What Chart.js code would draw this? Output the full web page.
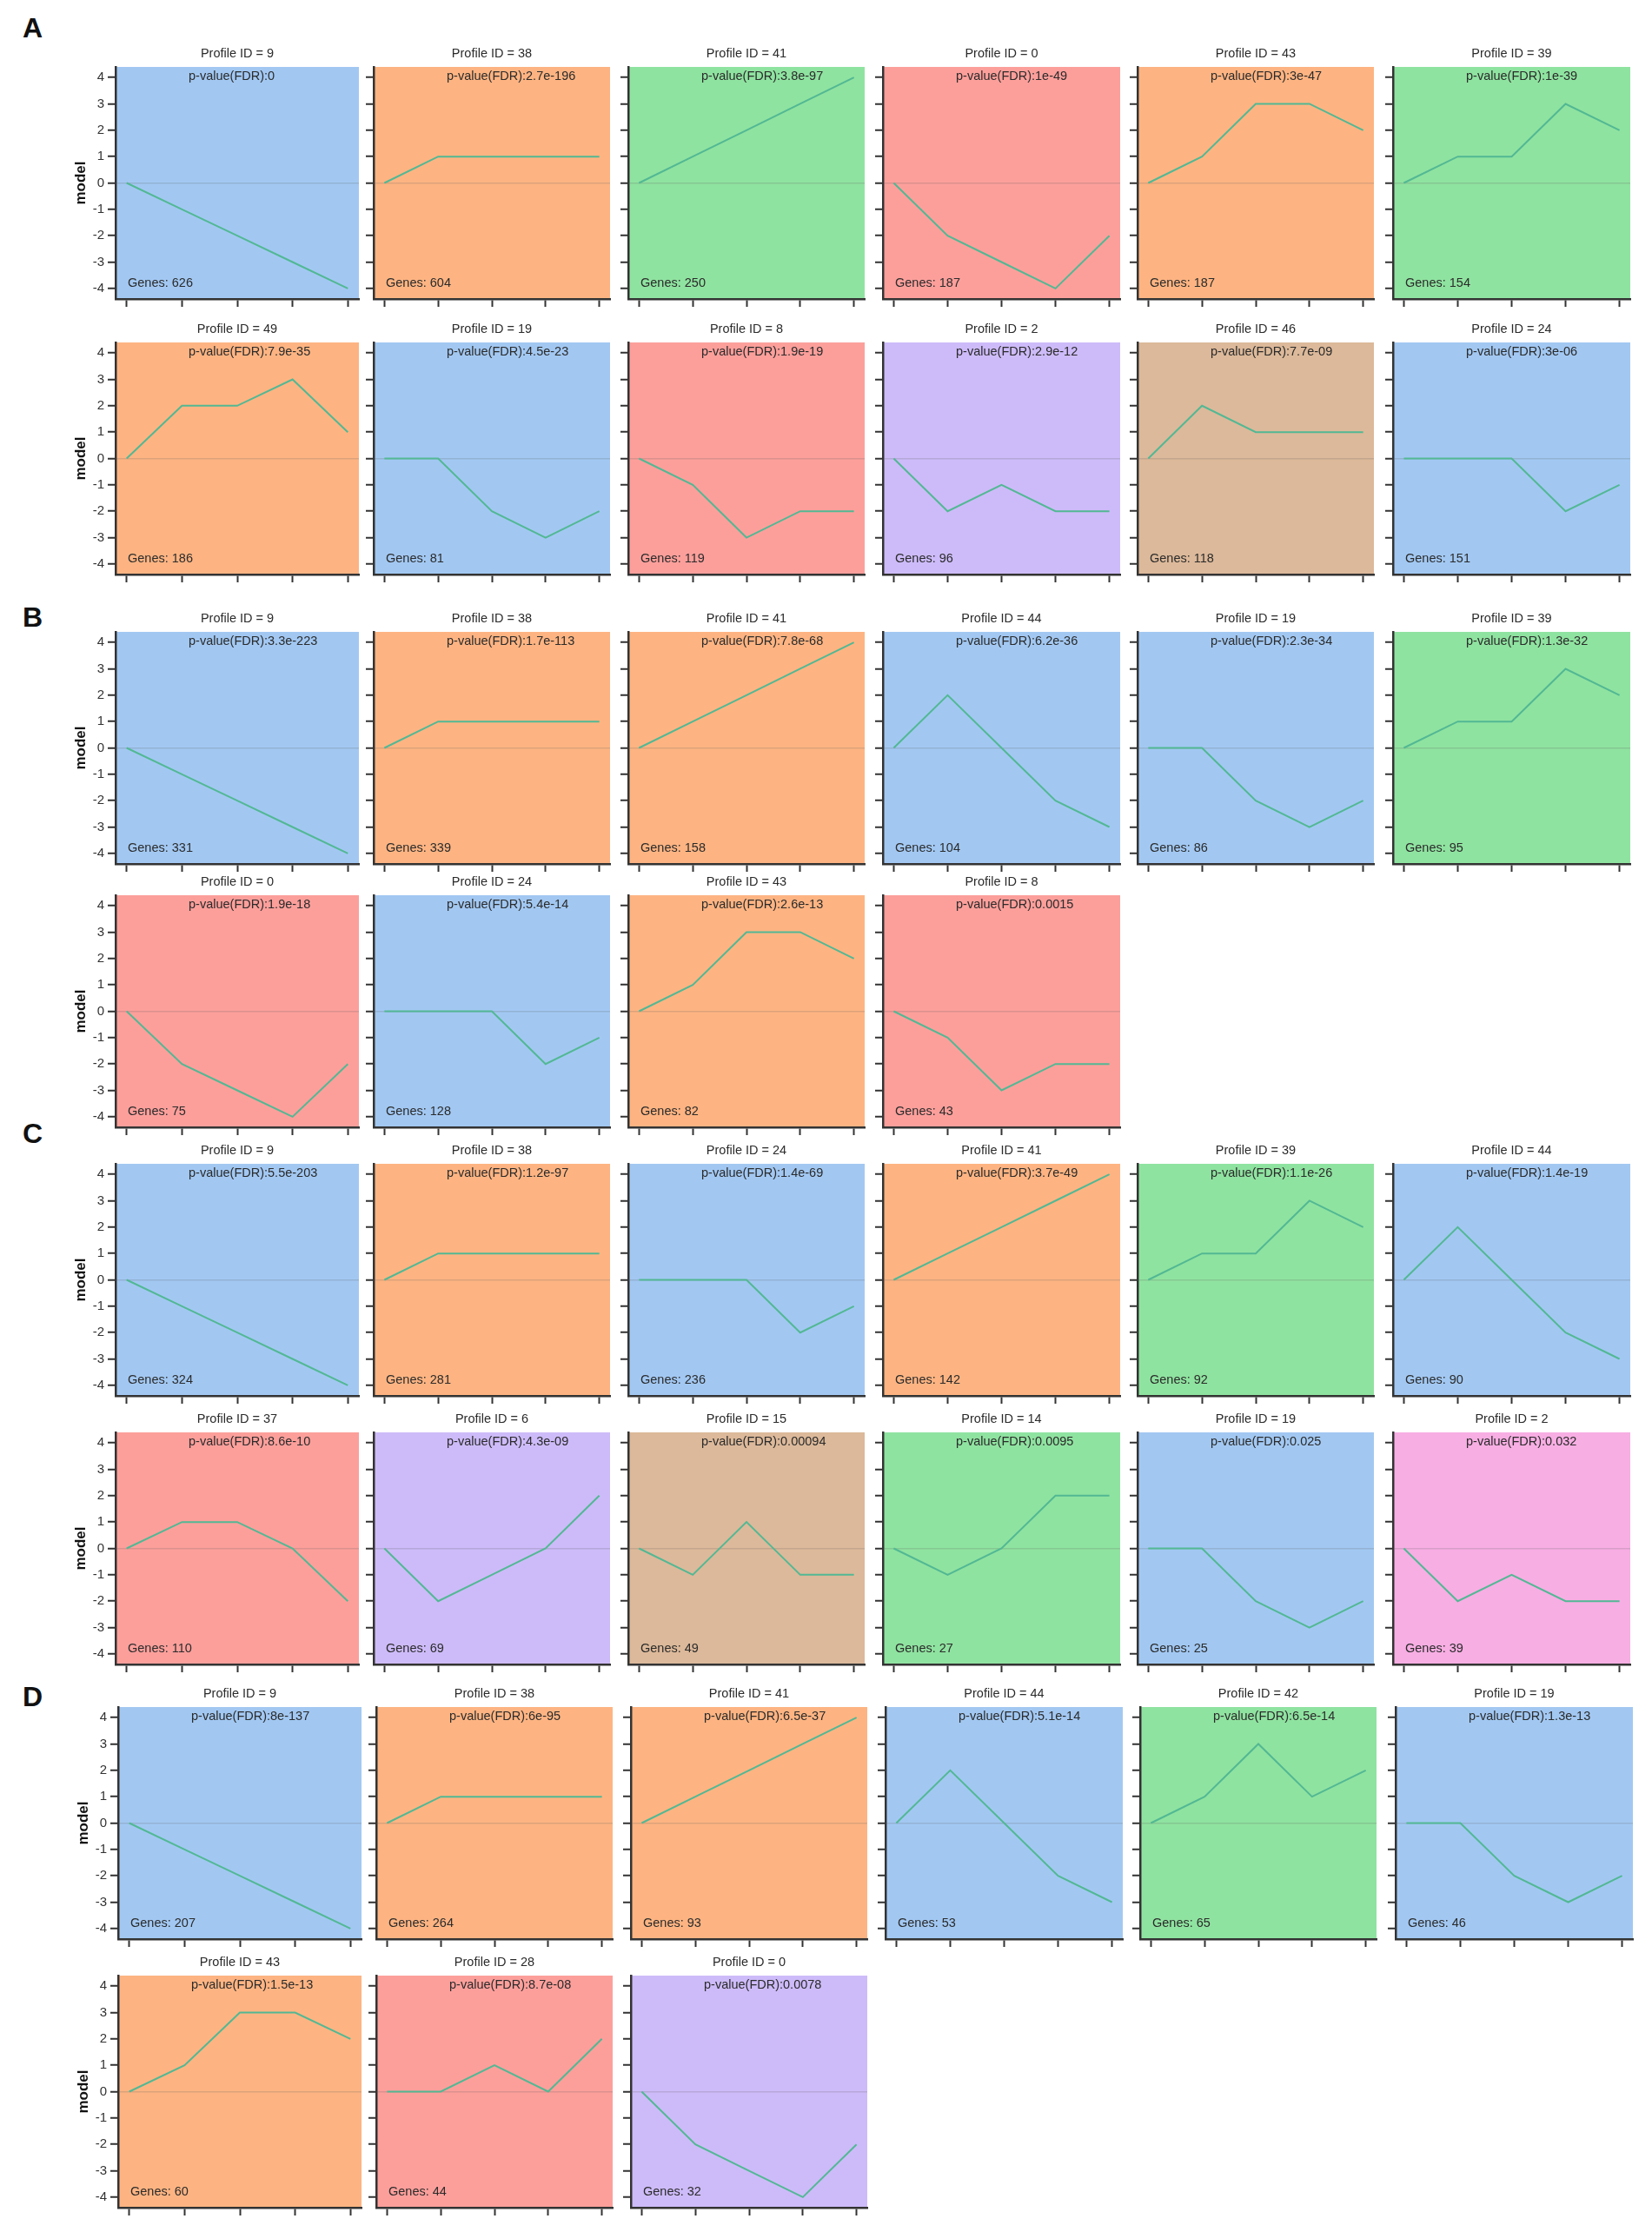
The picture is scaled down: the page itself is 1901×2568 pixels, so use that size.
<!DOCTYPE html>
<html><head><meta charset="utf-8">
<script src="https://cdn.jsdelivr.net/npm/chart.js@4.4.1/dist/chart.umd.min.js"></script>
<style>
html,body{margin:0;padding:0;background:#fff;}
#page{position:relative;width:1901px;height:2568px;overflow:hidden;font-family:"Liberation Sans",Arial,sans-serif;}
.letter{position:absolute;font-weight:bold;font-size:32px;line-height:32px;color:#111;font-family:"Liberation Sans",Arial,sans-serif;}
canvas{position:absolute;}
</style></head><body><div id="page"></div>
<script>
// ---------- data ----------
const sectionLetters = ['A', 'B', 'C', 'D'];
const timePoints = [0, 1, 2, 3, 4];
const yTickValues = [-4, -3, -2, -1, 0, 1, 2, 3, 4];

const idsA = [9, 38, 41, 0, 43, 39, 49, 19, 8, 2, 46, 24];
const pvalsA = ['0', '2.7e-196', '3.8e-97', '1e-49', '3e-47', '1e-39', '7.9e-35', '4.5e-23', '1.9e-19', '2.9e-12', '7.7e-09', '3e-06'];
const genesA = [626, 604, 250, 187, 187, 154, 186, 81, 119, 96, 118, 151];
const groupsA = ['blue', 'orange', 'green', 'red', 'orange', 'green', 'orange', 'blue', 'red', 'purple', 'tan', 'blue'];
const profilesA = [
  [0, -1, -2, -3, -4], [0, 1, 1, 1, 1], [0, 1, 2, 3, 4], [0, -2, -3, -4, -2], [0, 1, 3, 3, 2], [0, 1, 1, 3, 2],
  [0, 2, 2, 3, 1], [0, 0, -2, -3, -2], [0, -1, -3, -2, -2], [0, -2, -1, -2, -2], [0, 2, 1, 1, 1], [0, 0, 0, -2, -1]
];

const idsB = [9, 38, 41, 44, 19, 39, 0, 24, 43, 8];
const pvalsB = ['3.3e-223', '1.7e-113', '7.8e-68', '6.2e-36', '2.3e-34', '1.3e-32', '1.9e-18', '5.4e-14', '2.6e-13', '0.0015'];
const genesB = [331, 339, 158, 104, 86, 95, 75, 128, 82, 43];
const groupsB = ['blue', 'orange', 'orange', 'blue', 'blue', 'green', 'red', 'blue', 'orange', 'red'];
const profilesB = [
  [0, -1, -2, -3, -4], [0, 1, 1, 1, 1], [0, 1, 2, 3, 4], [0, 2, 0, -2, -3], [0, 0, -2, -3, -2], [0, 1, 1, 3, 2],
  [0, -2, -3, -4, -2], [0, 0, 0, -2, -1], [0, 1, 3, 3, 2], [0, -1, -3, -2, -2]
];

const idsC = [9, 38, 24, 41, 39, 44, 37, 6, 15, 14, 19, 2];
const pvalsC = ['5.5e-203', '1.2e-97', '1.4e-69', '3.7e-49', '1.1e-26', '1.4e-19', '8.6e-10', '4.3e-09', '0.00094', '0.0095', '0.025', '0.032'];
const genesC = [324, 281, 236, 142, 92, 90, 110, 69, 49, 27, 25, 39];
const groupsC = ['blue', 'orange', 'blue', 'orange', 'green', 'blue', 'red', 'purple', 'tan', 'green', 'blue', 'pink'];
const profilesC = [
  [0, -1, -2, -3, -4], [0, 1, 1, 1, 1], [0, 0, 0, -2, -1], [0, 1, 2, 3, 4], [0, 1, 1, 3, 2], [0, 2, 0, -2, -3],
  [0, 1, 1, 0, -2], [0, -2, -1, 0, 2], [0, -1, 1, -1, -1], [0, -1, 0, 2, 2], [0, 0, -2, -3, -2], [0, -2, -1, -2, -2]
];

const idsD = [9, 38, 41, 44, 42, 19, 43, 28, 0];
const pvalsD = ['8e-137', '6e-95', '6.5e-37', '5.1e-14', '6.5e-14', '1.3e-13', '1.5e-13', '8.7e-08', '0.0078'];
const genesD = [207, 264, 93, 53, 65, 46, 60, 44, 32];
const groupsD = ['blue', 'orange', 'orange', 'blue', 'green', 'blue', 'orange', 'red', 'purple'];
const profilesD = [
  [0, -1, -2, -3, -4], [0, 1, 1, 1, 1], [0, 1, 2, 3, 4], [0, 2, 0, -2, -3], [0, 1, 3, 1, 2], [0, 0, -2, -3, -2],
  [0, 1, 3, 3, 2], [0, 0, 1, 0, 2], [0, -2, -3, -4, -2]
];

// ---------- styles / layout ----------
const palette = {
  blue: '#a2c8f2', orange: '#fdb482', green: '#8fe3a0', red: '#fc9f9b',
  purple: '#cdbbf9', tan: '#dcb99a', pink: '#f7aee3'
};
const FONT = '"Liberation Sans", Arial, sans-serif';
const colLeft = [133, 430, 723, 1016, 1309, 1603];
const colW = [280, 272, 272, 273, 272, 273];
const plotH = 267;
const sections = [
  { ids: idsA, pv: pvalsA, genes: genesA, groups: groupsA, prof: profilesA, rows: [77, 394], letterY: 16, dx: 0 },
  { ids: idsB, pv: pvalsB, genes: genesB, groups: groupsB, prof: profilesB, rows: [727, 1030], letterY: 694, dx: 0 },
  { ids: idsC, pv: pvalsC, genes: genesC, groups: groupsC, prof: profilesC, rows: [1339, 1648], letterY: 1288, dx: 0 },
  { ids: idsD, pv: pvalsD, genes: genesD, groups: groupsD, prof: profilesD, rows: [1964, 2273], letterY: 1936, dx: 3 }
];

const page = document.getElementById('page');

const decoPlugin = {
  id: 'panelDeco',
  beforeDraw(chart, args, opts) {
    const a = chart.chartArea, c = chart.ctx;
    c.save();
    c.fillStyle = opts.bg;
    c.fillRect(a.left, a.top, a.right - a.left, a.bottom - a.top);
    c.restore();
  },
  afterDraw(chart, args, opts) {
    const a = chart.chartArea, c = chart.ctx;
    c.save();
    c.fillStyle = '#2b2b2b';
    c.font = '14.5px ' + FONT;
    c.textBaseline = 'middle';
    c.textAlign = 'center';
    c.fillText(opts.title, (a.left + a.right) / 2, a.top - 15);
    c.textAlign = 'left';
    c.fillText(opts.pv, a.left + 84, a.top + 11);
    c.fillText(opts.genes, a.left + 14, a.bottom - 18);
    c.restore();
  }
};

function makePanel(x, y, w, first, id, pv, genes, group, values) {
  const leftW = first ? 50 : 12;
  const topPad = 32, botH = 13;
  const cw = leftW + w + 3, ch = topPad + plotH + botH;
  const cv = document.createElement('canvas');
  cv.width = cw; cv.height = ch;
  cv.style.width = cw + 'px'; cv.style.height = ch + 'px';
  cv.style.left = (x - leftW) + 'px';
  cv.style.top = (y - topPad) + 'px';
  page.appendChild(cv);
  new Chart(cv, {
    type: 'line',
    data: {
      datasets: [{
        data: values.map((v, i) => ({ x: timePoints[i], y: v })),
        borderColor: '#52b894', borderWidth: 2, pointRadius: 0, tension: 0, fill: false
      }]
    },
    options: {
      responsive: false, animation: false, devicePixelRatio: 1,
      layout: { padding: { top: topPad, right: 3, left: 0, bottom: 0 } },
      plugins: {
        legend: { display: false }, tooltip: { enabled: false },
        panelDeco: { bg: palette[group], title: 'Profile ID = ' + id, pv: 'p-value(FDR):' + pv, genes: 'Genes: ' + genes }
      },
      scales: {
        x: {
          type: 'linear', min: -0.2, max: 4.2,
          afterBuildTicks: a => { a.ticks = timePoints.map(v => ({ value: v })); },
          afterFit: a => { a.height = botH; },
          grid: { drawOnChartArea: false, drawTicks: true, tickLength: 9, tickColor: '#333', tickWidth: 2 },
          border: { display: true, color: '#333', width: 2.5 },
          ticks: { display: false }
        },
        y: {
          type: 'linear', min: -4.4, max: 4.4,
          afterBuildTicks: a => { a.ticks = yTickValues.map(v => ({ value: v })); },
          afterFit: a => { a.width = leftW; },
          grid: {
            drawOnChartArea: true, drawTicks: true, tickLength: 9, tickColor: '#333', tickWidth: 2,
            color: c => (c.tick && c.tick.value === 0) ? 'rgba(90,90,90,0.2)' : 'rgba(0,0,0,0)',
            lineWidth: 1.5
          },
          border: { display: true, color: '#333', width: 2.5 },
          ticks: { display: first, color: '#333', padding: 4, font: { size: 15, family: FONT } },
          title: { display: first, text: 'model', color: '#111', font: { size: 17, weight: 'bold', family: FONT }, padding: { top: 0, bottom: 2 } }
        }
      }
    },
    plugins: [decoPlugin]
  });
}

sections.forEach((s, si) => {
  const L = document.createElement('div');
  L.className = 'letter';
  L.textContent = sectionLetters[si];
  L.style.left = '26px';
  L.style.top = s.letterY + 'px';
  page.appendChild(L);
  s.ids.forEach((id, k) => {
    const r = Math.floor(k / 6), c = k % 6;
    makePanel(colLeft[c] + s.dx, s.rows[r], colW[c], c === 0, id, s.pv[k], s.genes[k], s.groups[k], s.prof[k]);
  });
});
</script>
</body></html>
